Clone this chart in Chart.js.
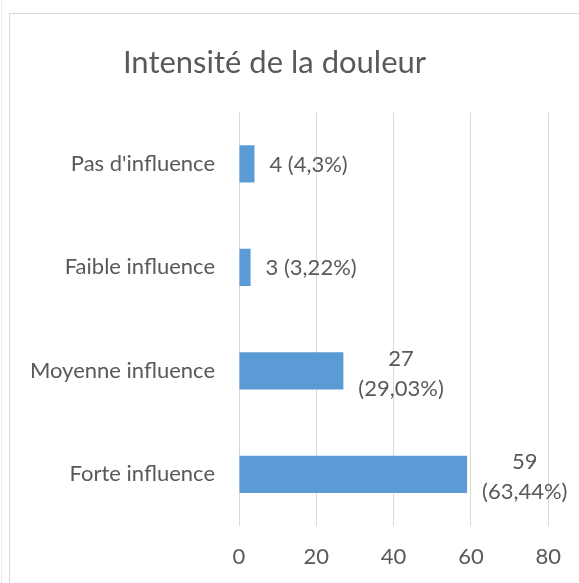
<!DOCTYPE html>
<html>
<head>
<meta charset="utf-8">
<script src="https://cdn.jsdelivr.net/npm/chart.js@4/dist/chart.umd.min.js"></script>
<style>
    html, body { margin: 0; padding: 0; background: #fff; }
    #wrap { position: relative; width: 579px; height: 583px; overflow: hidden; }
    #edge { position: absolute; left: 1px; top: 0; width: 0; height: 583px; border-left: 1px solid #ededed; }
    #frame { position: absolute; left: 9px; top: 13px; width: 600px; height: 600px; border-top: 1px solid #d9d9d9; border-left: 1px solid #d9d9d9; }
    canvas { position: absolute; left: 0; top: 0; }
</style>
</head>
<body>
<div id="wrap">
    <div id="edge"></div>
    <div id="frame"></div>
    <canvas id="painChart" width="579" height="583"></canvas>
</div>
<script>
// Data
const categories = ["Pas d'influence", "Faible influence", "Moyenne influence", "Forte influence"];
const counts = [4, 3, 27, 59];
const percents = ["4,3%", "3,22%", "29,03%", "63,44%"];
const wrapLabel = [false, false, true, true];
const xTicks = [0, 20, 40, 60, 80];

const textColor = "#595959";
const fontFamily = "Lato, 'Open Sans', sans-serif";

// Draws "n (x%)" next to each bar, wrapped to two lines for the long bars
const barLabels = {
    id: "barLabels",
    afterDatasetsDraw(chart) {
        const ctx = chart.ctx;
        const meta = chart.getDatasetMeta(0);
        ctx.save();
        ctx.font = "22px " + fontFamily;
        ctx.fillStyle = textColor;
        ctx.textAlign = "center";
        ctx.textBaseline = "middle";
        meta.data.forEach((bar, i) => {
            const lines = wrapLabel[i]
                ? [String(counts[i]), "(" + percents[i] + ")"]
                : [counts[i] + " (" + percents[i] + ")"];
            const w = Math.max(...lines.map((l) => ctx.measureText(l).width));
            const cx = bar.x + 15 + w / 2;
            const lh = 30;
            const y0 = bar.y - (lh * (lines.length - 1)) / 2 + (lines.length > 1 ? 3 : 1);
            lines.forEach((l, k) => ctx.fillText(l, cx, y0 + k * lh));
        });
        ctx.restore();
    },
};

new Chart(document.getElementById("painChart").getContext("2d"), {
    type: "bar",
    data: {
        labels: categories,
        datasets: [
            {
                data: counts,
                backgroundColor: "#5b9bd5",
                borderWidth: 0,
                barPercentage: 0.36,
                categoryPercentage: 1,
            },
        ],
    },
    options: {
        indexAxis: "y",
        responsive: false,
        animation: false,
        layout: {
            padding: { left: 0, right: 30, top: 0, bottom: 0 },
        },
        plugins: {
            legend: { display: false },
            tooltip: { enabled: false },
            title: {
                display: true,
                text: "Intensité de la douleur",
                color: textColor,
                font: { family: fontFamily, size: 31, weight: "normal", lineHeight: 1.2 },
                padding: { top: 44, bottom: 31 },
            },
        },
        scales: {
            x: {
                min: 0,
                max: 80,
                afterBuildTicks(scale) {
                    scale.ticks = xTicks.map((v) => ({ value: v }));
                },
                afterFit(scale) {
                    scale.height = 57;
                },
                grid: { color: "#d9d9d9", drawTicks: false },
                border: { display: false },
                ticks: {
                    color: textColor,
                    font: { family: fontFamily, size: 22 },
                    padding: 18,
                },
            },
            y: {
                afterFit(scale) {
                    scale.width = 239;
                },
                grid: { display: false, drawTicks: false },
                border: { display: false },
                ticks: {
                    color: textColor,
                    font: { family: fontFamily, size: 22 },
                    padding: 24,
                },
            },
        },
    },
    plugins: [barLabels],
});
</script>
</body>
</html>
